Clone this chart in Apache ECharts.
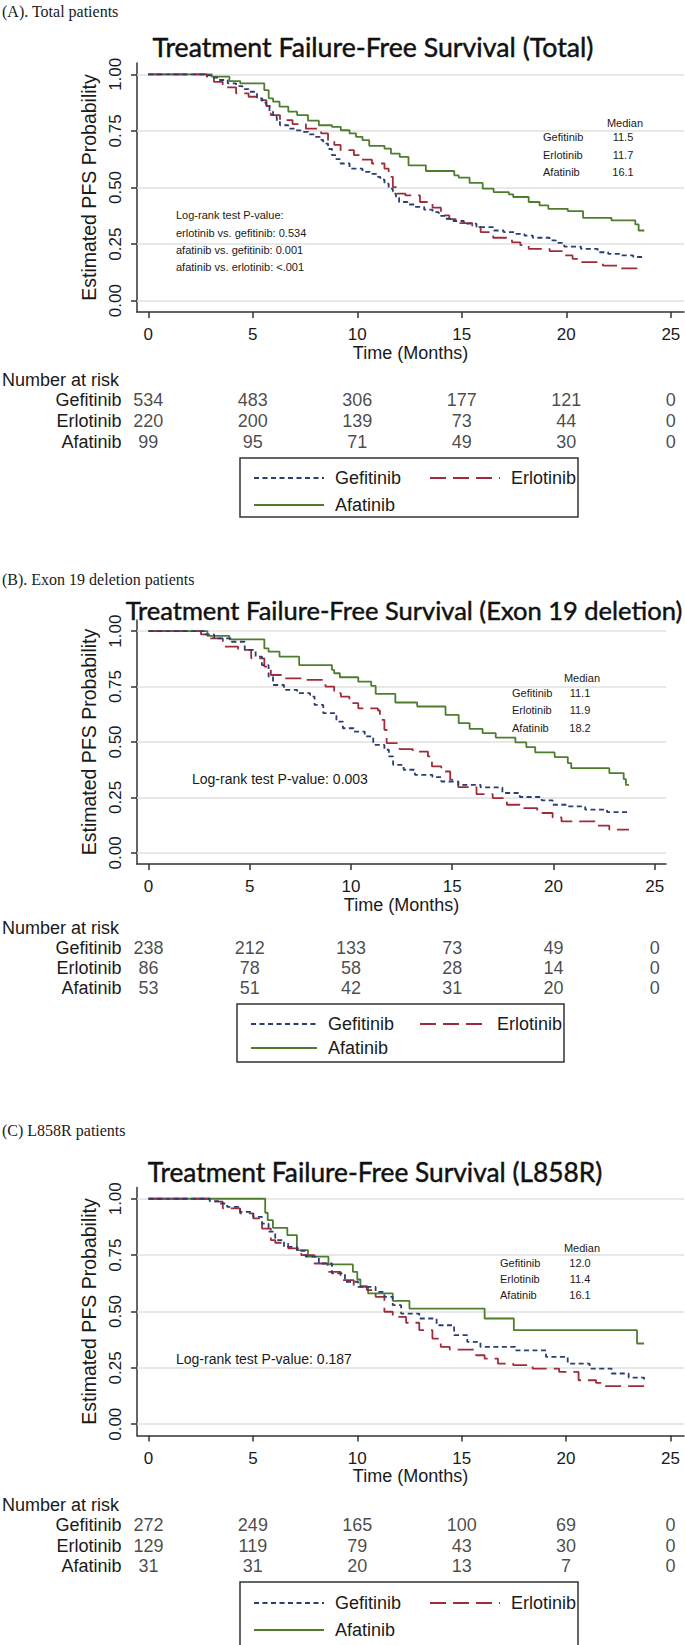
<!DOCTYPE html>
<html>
<head>
<meta charset="utf-8">
<script src="https://cdn.jsdelivr.net/npm/echarts@6/dist/echarts.min.js"></script>
<style>
  html, body { margin: 0; padding: 0; background: #fff; }
  .panel { width: 685px; }
</style>
</head>
<body>
<div id="pA" class="panel" style="height:550px"></div>
<div id="pB" class="panel" style="height:550px"></div>
<div id="pC" class="panel" style="height:545px"></div>
<script>
// ticks
const timeTicks = [0, 5, 10, 15, 20, 25];
const probTicks = [0, 0.25, 0.5, 0.75, 1];
const drugs = ['Gefitinib', 'Erlotinib', 'Afatinib'];

// (A) total patients: [month, survival]
const gefTotal = [[0,1],[2.7,0.995],[3.0,0.985],[3.35,0.975],[3.8,0.96],[4.2,0.948],[4.5,0.935],[4.8,0.923],[5.2,0.894],[5.45,0.875],[5.65,0.857],[5.8,0.835],[5.97,0.812],[6.15,0.79],[6.3,0.775],[6.7,0.76],[7.0,0.752],[7.33,0.746],[7.65,0.735],[7.96,0.724],[8.2,0.71],[8.37,0.694],[8.6,0.67],[8.79,0.643],[9.0,0.625],[9.2,0.606],[9.63,0.583],[10.25,0.569],[10.6,0.56],[10.9,0.547],[11.1,0.535],[11.3,0.517],[11.5,0.495],[11.7,0.473],[11.85,0.455],[12.0,0.436],[12.4,0.425],[12.76,0.414],[13.2,0.402],[13.6,0.391],[13.9,0.375],[14.2,0.362],[14.6,0.352],[15.1,0.34],[15.7,0.325],[16.5,0.31],[17.0,0.303],[17.6,0.295],[18.0,0.287],[18.4,0.278],[19.2,0.266],[19.5,0.255],[19.9,0.239],[20.7,0.229],[21.5,0.214],[22.0,0.207],[22.6,0.2],[23.2,0.193],[23.7,0.189]];
const erlTotal = [[0,1],[2.8,0.99],[3.14,0.967],[3.56,0.942],[4.2,0.916],[4.8,0.901],[5.24,0.886],[5.65,0.86],[5.86,0.82],[6.3,0.798],[6.9,0.78],[7.54,0.76],[8.27,0.739],[8.6,0.709],[8.9,0.688],[9.2,0.665],[9.84,0.643],[10.15,0.623],[10.7,0.606],[11.3,0.583],[11.5,0.547],[11.7,0.502],[11.9,0.473],[12.3,0.465],[13.0,0.436],[13.6,0.411],[14.0,0.377],[14.4,0.36],[14.85,0.343],[15.5,0.325],[15.9,0.303],[16.5,0.278],[17.4,0.258],[17.8,0.245],[18.2,0.229],[19.2,0.219],[19.86,0.2],[20.3,0.185],[20.7,0.17],[21.75,0.155],[22.6,0.143],[23.7,0.143]];
const afaTotal = [[0,1],[3.04,0.99],[3.88,0.97],[4.4,0.96],[5.55,0.93],[5.76,0.894],[5.97,0.879],[6.28,0.857],[6.7,0.835],[7.12,0.82],[7.64,0.795],[8.16,0.775],[8.79,0.768],[9.21,0.753],[9.63,0.739],[9.94,0.724],[10.25,0.709],[10.57,0.684],[11.3,0.672],[11.61,0.65],[12.03,0.635],[12.45,0.598],[13.28,0.573],[14.64,0.554],[14.85,0.544],[15.37,0.52],[16.0,0.495],[16.52,0.48],[17.25,0.47],[17.46,0.458],[18.2,0.436],[18.72,0.421],[19.14,0.406],[20.07,0.396],[20.8,0.366],[22.16,0.355],[23.3,0.337],[23.46,0.31],[23.73,0.31]];
const riskGefTotal = [534, 483, 306, 177, 121, 0];
const riskErlTotal = [220, 200, 139, 73, 44, 0];
const riskAfaTotal = [99, 95, 71, 49, 30, 0];
const medianTotal = ['11.5', '11.7', '16.1'];

// (B) exon 19 deletion
const gefEx19 = [[0,1],[2.8,0.985],[3.24,0.967],[4.1,0.952],[4.75,0.915],[5.29,0.885],[5.6,0.847],[5.93,0.795],[6.15,0.757],[6.69,0.735],[7.34,0.72],[7.98,0.705],[8.2,0.667],[8.63,0.63],[9.28,0.592],[9.6,0.562],[10.14,0.547],[10.68,0.525],[11.1,0.487],[11.65,0.465],[11.87,0.435],[12.08,0.397],[12.6,0.375],[13.16,0.352],[14.02,0.342],[14.46,0.322],[15.3,0.307],[16.4,0.295],[17.48,0.27],[18.34,0.252],[19.42,0.237],[19.96,0.217],[20.7,0.21],[21.57,0.195],[22.65,0.184],[23.73,0.184]];
const erlEx19 = [[0,1],[2.59,0.985],[3.02,0.967],[3.67,0.93],[4.42,0.915],[5.07,0.877],[5.72,0.84],[6.04,0.802],[6.69,0.787],[7.77,0.78],[8.74,0.75],[9.17,0.72],[9.5,0.705],[9.92,0.675],[10.36,0.652],[11.33,0.642],[11.43,0.6],[11.65,0.555],[11.76,0.495],[12.4,0.468],[13.05,0.457],[13.8,0.435],[14.0,0.39],[14.46,0.367],[14.9,0.33],[15.3,0.297],[16.2,0.265],[17.0,0.247],[17.7,0.217],[18.34,0.202],[19.2,0.18],[19.96,0.16],[20.4,0.142],[22.1,0.123],[22.76,0.105],[23.73,0.105]];
const afaEx19 = [[0,1],[2.91,0.978],[3.99,0.963],[5.72,0.922],[5.93,0.907],[6.47,0.885],[7.44,0.847],[9.06,0.825],[9.17,0.81],[9.45,0.792],[10.36,0.772],[11.0,0.753],[11.22,0.717],[12.19,0.678],[13.27,0.66],[14.67,0.622],[15.32,0.585],[15.86,0.559],[16.5,0.54],[17.15,0.52],[18.12,0.498],[18.66,0.477],[19.1,0.453],[20.06,0.432],[20.71,0.405],[20.88,0.382],[22.76,0.36],[23.47,0.333],[23.58,0.307],[23.73,0.307]];
const riskGefEx19 = [238, 212, 133, 73, 49, 0];
const riskErlEx19 = [86, 78, 58, 28, 14, 0];
const riskAfaEx19 = [53, 51, 42, 31, 20, 0];
const medianEx19 = ['11.1', '11.9', '18.2'];

// (C) L858R
const gefL858 = [[0,1],[2.93,0.99],[3.35,0.979],[3.77,0.964],[4.39,0.942],[5.02,0.92],[5.44,0.89],[5.75,0.854],[6.07,0.817],[6.49,0.787],[7.11,0.769],[7.53,0.743],[8.16,0.713],[8.79,0.669],[9.41,0.632],[10.04,0.609],[10.88,0.587],[11.3,0.565],[11.7,0.528],[12.1,0.491],[12.97,0.469],[13.8,0.439],[14.64,0.395],[15.27,0.365],[15.9,0.343],[17.57,0.328],[19.04,0.299],[20.08,0.269],[21.13,0.247],[22.18,0.225],[23.0,0.207],[23.74,0.198]];
const erlL858 = [[0,1],[2.93,0.987],[3.56,0.957],[4.39,0.935],[5.02,0.913],[5.44,0.868],[5.86,0.817],[6.07,0.805],[6.69,0.78],[7.32,0.75],[7.95,0.713],[8.58,0.676],[9.2,0.639],[9.83,0.612],[10.46,0.595],[10.88,0.565],[11.3,0.499],[11.7,0.476],[12.34,0.45],[12.97,0.417],[13.6,0.38],[14.0,0.343],[14.43,0.331],[15.69,0.306],[16.1,0.291],[16.74,0.269],[17.47,0.262],[18.4,0.247],[19.67,0.232],[20.6,0.195],[21.44,0.183],[21.86,0.169],[23.74,0.169]];
const afaL858 = [[0,1],[5.59,0.938],[5.71,0.905],[5.96,0.871],[6.65,0.839],[7.11,0.772],[7.64,0.743],[8.62,0.709],[9.79,0.676],[10.0,0.642],[10.15,0.609],[10.52,0.58],[11.7,0.547],[12.5,0.513],[16.1,0.469],[17.5,0.417],[23.4,0.358],[23.74,0.358]];
const riskGefL858 = [272, 249, 165, 100, 69, 0];
const riskErlL858 = [129, 119, 79, 43, 30, 0];
const riskAfaL858 = [31, 31, 20, 13, 7, 0];
const medianL858 = ['12.0', '11.4', '16.1'];

const colors = ['#2a3e74', '#9f2c3a', '#4f7d2e'];
const dashes = [[5, 3.5], [16, 7], 'solid'];
const SANS = "'Liberation Sans', Arial, sans-serif";

function txt(text, x, y, size, opts) {
  opts = opts || {};
  const style = {
    text: text, x: x, y: y,
    fontSize: size, fontFamily: opts.family || SANS,
    fontWeight: opts.weight || 'normal',
    fill: opts.fill || '#1a1a1a',
    textAlign: opts.align || 'left',
    textVerticalAlign: 'middle'
  };
  if (opts.stroke) { style.stroke = opts.fill || '#1a1a1a'; style.lineWidth = opts.stroke; }
  return { type: 'text', silent: true, style: style };
}

function buildPanel(id, p) {
  const chart = echarts.init(document.getElementById(id), null, { renderer: 'svg' });
  const curves = [p.gef, p.erl, p.afa];
  const risks = [p.riskGef, p.riskErl, p.riskAfa];
  const riskData = [];
  risks.forEach((row, r) => row.forEach((v, i) => riskData.push([timeTicks[i], r, v])));

  // grid lines at the probability ticks (kept under the curves)
  const series = [{
    type: 'line', xAxisIndex: 0, yAxisIndex: 0, data: [], z: 1, silent: true,
    markLine: {
      z: 1, silent: true, symbol: 'none', label: { show: false }, animation: false,
      lineStyle: { color: '#e1e1e1', width: 1.5, type: 'solid' },
      emphasis: { disabled: true },
      data: probTicks.map(v => ({ yAxis: v }))
    }
  }];
  curves.forEach((c, i) => series.push({
    name: drugs[i], type: 'line', step: 'end', data: c, xAxisIndex: 0, yAxisIndex: 0,
    showSymbol: false, symbol: 'none', z: 3 + (2 - i), silent: true,
    emphasis: { disabled: true },
    lineStyle: { color: colors[i], width: 1.8, type: dashes[i] },
    itemStyle: { color: colors[i] }
  }));
  // number at risk, placed on the same time scale
  series.push({
    type: 'scatter', xAxisIndex: 1, yAxisIndex: 1, symbolSize: 0, data: riskData, silent: true,
    label: {
      show: true, position: 'inside', formatter: d => d.value[2],
      fontSize: 18, fontFamily: SANS, color: '#1a1a1a'
    }
  });

  const graphic = [
    txt(p.label, 2, p.labelY, 16, { family: "'Liberation Serif', 'Times New Roman', serif" }),
    txt(p.title, p.titleX, p.titleY, p.titleSize, { family: 'Lato, sans-serif', align: 'center', fill: '#111', stroke: 0.45 }),
    txt('Number at risk', 2, p.narY, 18),
    txt('Median', p.medValX + 2, p.medHeadY, 11, { align: 'center' })
  ];
  drugs.forEach((d, i) => {
    graphic.push(txt(d, p.medNameX, p.medRowsY[i], 11));
    graphic.push(txt(p.median[i], p.medValX, p.medRowsY[i], 11, { align: 'center' }));
  });
  p.logrank.forEach((l, i) => graphic.push(txt(l, p.lrX, p.lrY[i], p.lrSize)));
  graphic.push({
    type: 'rect', silent: true,
    shape: { x: p.box[0], y: p.box[1], width: p.box[2], height: p.box[3] },
    style: { fill: 'none', stroke: '#333', lineWidth: 1.5 }
  });

  const legends = drugs.map((d, i) => ({
    data: [d], left: p.legX[i], top: p.legY[i] - 12,
    itemWidth: p.legW, itemHeight: 14, selectedMode: false,
    itemStyle: { opacity: 0, borderWidth: 0 },
    textStyle: { fontSize: 18, fontFamily: SANS, color: '#1a1a1a', padding: [0, 0, 0, 6] }
  }));

  const axisCommon = { type: 'value', min: p.xMin, max: p.xMax };

  chart.setOption({
    animation: false,
    backgroundColor: '#fff',
    grid: [
      { left: 137, top: p.top, width: p.width, height: p.height },
      { left: 137, top: p.riskTop, width: p.width, height: p.riskRowH * 3 }
    ],
    xAxis: [
      Object.assign({}, axisCommon, {
        gridIndex: 0,
        name: 'Time (Months)', nameLocation: 'middle', nameGap: p.nameGapX,
        nameTextStyle: { fontSize: 18, fontFamily: SANS, color: '#1a1a1a' },
        axisLine: { onZero: false, lineStyle: { color: '#333', width: 1.5 } },
        axisTick: { show: true, length: 6, lineStyle: { color: '#333', width: 1.5 }, customValues: timeTicks },
        axisLabel: { fontSize: 17, fontFamily: SANS, color: '#1a1a1a', margin: 14, customValues: timeTicks },
        splitLine: { show: false }
      }),
      Object.assign({}, axisCommon, { gridIndex: 1, show: false })
    ],
    yAxis: [
      {
        type: 'value', gridIndex: 0, min: -0.05, max: 1.05,
        name: 'Estimated PFS Probability', nameLocation: 'middle', nameGap: 35, nameRotate: 90,
        nameTextStyle: { fontSize: 19.5, fontFamily: SANS, color: '#1a1a1a' },
        axisLine: { show: true, onZero: false, lineStyle: { color: '#333', width: 1.5 } },
        axisTick: { show: true, length: 6, lineStyle: { color: '#333', width: 1.5 }, customValues: probTicks },
        axisLabel: {
          fontSize: 17, fontFamily: SANS, color: '#1a1a1a', rotate: 90, margin: 13,
          customValues: probTicks, formatter: v => v.toFixed(2)
        },
        splitLine: { show: false }
      },
      {
        type: 'category', gridIndex: 1, data: drugs, inverse: true,
        axisLine: { show: false }, axisTick: { show: false },
        axisLabel: { interval: 0, fontSize: 18, fontFamily: SANS, color: '#1a1a1a', margin: 15.5 }
      }
    ],
    legend: legends,
    graphic: graphic,
    series: series
  });
}

buildPanel('pA', {
  label: '(A). Total patients', labelY: 11,
  title: 'Treatment Failure-Free Survival (Total)', titleX: 373, titleY: 47, titleSize: 26.7,
  gef: gefTotal, erl: erlTotal, afa: afaTotal,
  riskGef: riskGefTotal, riskErl: riskErlTotal, riskAfa: riskAfaTotal,
  median: medianTotal, medNameX: 543, medValX: 623, medHeadY: 123, medRowsY: [137, 155, 172],
  logrank: ['Log-rank test P-value:', 'erlotinib vs. gefitinib: 0.534', 'afatinib vs. gefitinib: 0.001', 'afatinib vs. erlotinib: <.001'],
  lrX: 176, lrY: [215, 233, 250, 267], lrSize: 11,
  top: 63, width: 547, height: 249, xMin: -0.54, xMax: 25.63, nameGapX: 32,
  riskTop: 389.5, riskRowH: 21, narY: 380,
  box: [240, 458, 338, 59], legX: [248, 424, 248], legY: [476, 476, 503], legW: 70
});
buildPanel('pB', {
  label: '(B). Exon 19 deletion patients', labelY: 29,
  title: 'Treatment Failure-Free Survival (Exon 19 deletion)', titleX: 404, titleY: 60, titleSize: 25.5,
  gef: gefEx19, erl: erlEx19, afa: afaEx19,
  riskGef: riskGefEx19, riskErl: riskErlEx19, riskAfa: riskAfaEx19,
  median: medianEx19, medNameX: 512, medValX: 580, medHeadY: 128, medRowsY: [143, 160, 178],
  logrank: ['Log-rank test P-value: 0.003'], lrX: 192, lrY: [229], lrSize: 14,
  top: 70, width: 529, height: 244, xMin: -0.57, xMax: 25.56, nameGapX: 31,
  riskTop: 388, riskRowH: 20, narY: 378,
  box: [237, 454, 327, 58], legX: [245, 414, 245], legY: [472, 472, 496], legW: 66
});
buildPanel('pC', {
  label: '(C) L858R patients', labelY: 30,
  title: 'Treatment Failure-Free Survival (L858R)', titleX: 375, titleY: 72, titleSize: 26.3,
  gef: gefL858, erl: erlL858, afa: afaL858,
  riskGef: riskGefL858, riskErl: riskErlL858, riskAfa: riskAfaL858,
  median: medianL858, medNameX: 500, medValX: 580, medHeadY: 148, medRowsY: [163, 179, 195],
  logrank: ['Log-rank test P-value: 0.187'], lrX: 176, lrY: [259], lrSize: 14,
  top: 87.5, width: 547, height: 248, xMin: -0.55, xMax: 25.65, nameGapX: 31,
  riskTop: 415, riskRowH: 20.5, narY: 405,
  box: [240, 482, 338, 70], legX: [248, 424, 248], legY: [501, 501, 528], legW: 70
});
</script>
</body>
</html>
